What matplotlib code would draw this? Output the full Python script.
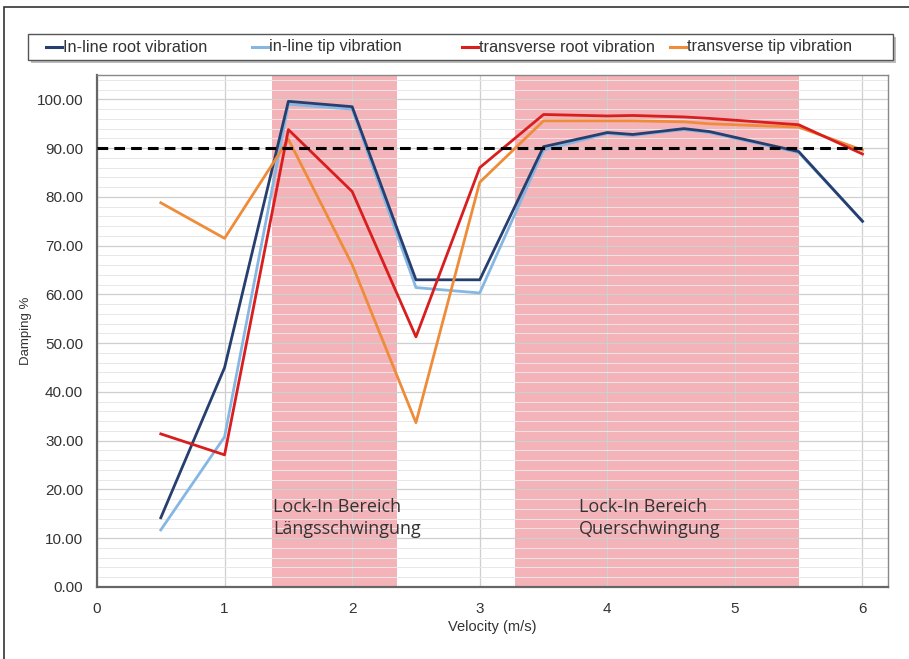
import matplotlib
matplotlib.use("Agg")
import matplotlib.pyplot as plt
from matplotlib.patches import Rectangle
from matplotlib.lines import Line2D
from matplotlib.ticker import MultipleLocator, FormatStrFormatter

velocity = [0.5, 1.0, 1.5, 2.0, 2.5, 3.0, 3.5, 4.0, 4.2, 4.6, 4.8, 5.5, 6.0]
inline_root = [14.2, 45.0, 99.6, 98.5, 63.0, 63.0, 90.3, 93.2, 92.8, 94.0, 93.4, 89.3, 75.0]
inline_tip = [11.7, 30.8, 99.0, 98.0, 61.4, 60.3, 89.6, 93.0, 92.6, 93.8, 93.2, 89.1, 75.0]
trans_root = [31.4, 27.1, 93.8, 81.1, 51.3, 86.0, 96.9, 96.6, 96.7, 96.4, 96.1, 94.8, 88.8]
trans_tip = [78.8, 71.5, 91.8, 66.1, 33.7, 83.0, 95.6, 95.6, 95.6, 95.4, 95.0, 94.3, 89.6]
series_labels = ["In-line root vibration", "in-line tip vibration",
                 "transverse root vibration", "transverse tip vibration"]
series_colors = ["#263f6e", "#86b7e3", "#d81e1e", "#ee8c3a"]
threshold = 90.0
lockin_ranges = [(1.37, 2.35), (3.28, 5.50)]
lockin_labels = ["Lock-In Bereich\nLängsschwingung", "Lock-In Bereich\nQuerschwingung"]
lockin_text_x = [1.38, 3.78]

plt.rcParams['font.family'] = ['Liberation Sans', 'DejaVu Sans']

W, H = 909, 659
fig = plt.figure(figsize=(W / 100, H / 100), dpi=100)
ax = fig.add_axes([97 / W, 1 - 587 / H, (888 - 97) / W, (587 - 75) / H])

for (a, b) in lockin_ranges:
    ax.axvspan(a, b, color="#f4b3b8", zorder=1, lw=0)

ax.set_xlim(0, 6.2)
ax.set_ylim(0, 105)
ax.xaxis.set_major_locator(MultipleLocator(1))
ax.yaxis.set_major_locator(MultipleLocator(10))
ax.yaxis.set_minor_locator(MultipleLocator(2))
ax.yaxis.set_major_formatter(FormatStrFormatter('%.2f'))
ax.grid(True, which='major', axis='both', color='#cfcfcf', lw=0.9, zorder=1.5)
ax.grid(True, which='minor', axis='y', color='#e8e8e8', lw=0.7, zorder=1.5)
ax.set_axisbelow('line')
ax.tick_params(which='both', length=0, labelsize=11, colors='#333333')
ax.tick_params(axis='y', pad=10)
ax.tick_params(axis='x', pad=11)

for vals, col in zip([inline_tip, inline_root, trans_tip, trans_root],
                     [series_colors[1], series_colors[0], series_colors[3], series_colors[2]]):
    ax.plot(velocity, vals, color=col, lw=2.0, zorder=3)

ax.plot([0, 6], [threshold, threshold], color='black', lw=2.2, ls=(0, (3.5, 2)), zorder=4)

for xt, txt in zip(lockin_text_x, lockin_labels):
    ax.text(xt, 18.3, txt, family=['Open Sans', 'DejaVu Sans'], fontsize=13,
            color='#333333', va='top', ha='left', linespacing=1.3, zorder=5)

for s in ['left', 'bottom']:
    ax.spines[s].set_color('#666666')
    ax.spines[s].set_linewidth(1.6)
for s in ['top', 'right']:
    ax.spines[s].set_color('#888888')
    ax.spines[s].set_linewidth(1.0)

ax.set_xlabel("Velocity (m/s)", fontsize=10.5, color='#333333', labelpad=3)
ax.set_ylabel("Damping %", fontsize=9.5, color='#333333', labelpad=3)

# legend box with shadow
bx0, bx1, by0, by1 = 28, 893, 34, 60
fig.patches.append(Rectangle(((bx0 + 3) / W, 1 - (by1 + 3) / H), (bx1 - bx0) / W, (by1 - by0) / H,
                             transform=fig.transFigure, facecolor='#bdbdbd', edgecolor='none', zorder=1))
fig.patches.append(Rectangle((bx0 / W, 1 - by1 / H), (bx1 - bx0) / W, (by1 - by0) / H,
                             transform=fig.transFigure, facecolor='white', edgecolor='#555555',
                             lw=1.0, zorder=2))
handle_x = [46, 252, 462, 670]
ly = 1 - 47.0 / H
base_y = 1 - 51.5 / H
for hx, lab, col in zip(handle_x, series_labels, series_colors):
    fig.add_artist(Line2D([hx / W, (hx + 16) / W], [ly, ly], transform=fig.transFigure,
                          color=col, lw=2.2, zorder=3))
    fig.text((hx + 17) / W, base_y, lab, fontsize=11.8, color='#333333',
             va='baseline', ha='left', zorder=3)

fig.patches.append(Rectangle((0.004, -0.02), 1.2, 1 - 7 / H + 0.02,
                             transform=fig.transFigure, fill=False,
                             edgecolor='#333333', lw=1.2))

fig.savefig("out.png", dpi=100)
